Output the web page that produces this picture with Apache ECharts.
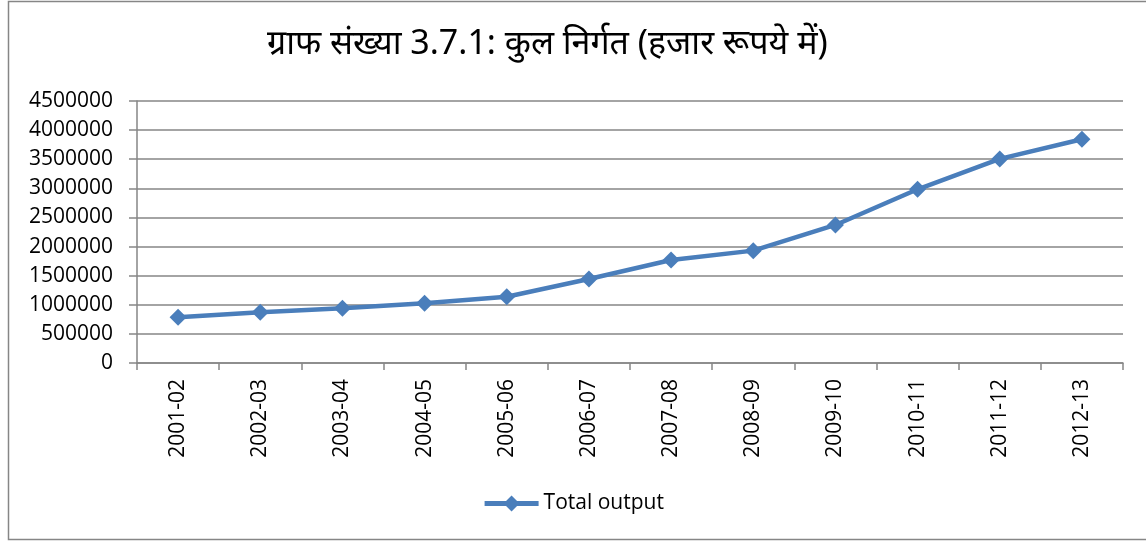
<!DOCTYPE html>
<html>
<head>
<meta charset="utf-8">
<script src="https://cdn.jsdelivr.net/npm/echarts@6/dist/echarts.min.js"></script>
<style>
  html, body { margin: 0; padding: 0; background: #fff; }
  #chart { width: 1146px; height: 541px; }
</style>
</head>
<body>
<div id="chart"></div>
<script>
  // 数据
  var years = ['2001-02', '2002-03', '2003-04', '2004-05', '2005-06', '2006-07',
               '2007-08', '2008-09', '2009-10', '2010-11', '2011-12', '2012-13'];
  var totalOutput = [785000, 871000, 940000, 1026000, 1139000, 1443000,
                     1770000, 1930000, 2371000, 2984000, 3505000, 3843000];
  var seriesName = 'Total output';
  var titleText = 'ग्राफ संख्या 3.7.1: कुल निर्गत (हजार रूपये में)';

  var axisGray = '#868686';
  var lineBlue = '#4a7ebb';

  var myChart = echarts.init(document.getElementById('chart'));
  myChart.setOption({
    animation: false,
    title: {
      text: titleText,
      left: 262,
      top: 22,
      textStyle: {
        fontFamily: '"Noto Sans", "Open Sans", sans-serif',
        fontSize: 34,
        fontWeight: 'normal',
        color: '#000'
      }
    },
    // 外框
    graphic: [{
      type: 'rect',
      shape: { x: 8.5, y: 1.5, width: 1150, height: 538 },
      style: { fill: 'none', stroke: axisGray, lineWidth: 1.5 },
      silent: true
    }],
    legend: {
      bottom: 22,
      left: 'center',
      itemWidth: 54,
      itemHeight: 20,
      itemGap: 4,
      lineStyle: { width: 5 },
      textStyle: { fontFamily: '"Open Sans", sans-serif', fontSize: 21, color: '#000' },
      data: [seriesName]
    },
    grid: {
      left: 137,
      right: 23,
      top: 101,
      bottom: 178,
      containLabel: false
    },
    xAxis: {
      type: 'category',
      data: years,
      boundaryGap: true,
      axisLine: { lineStyle: { color: axisGray, width: 1.5 } },
      axisTick: { show: true, length: 7, alignWithLabel: false, lineStyle: { color: axisGray, width: 1.5 } },
      axisLabel: {
        rotate: 90,
        margin: 16,
        interval: 0,
        fontFamily: '"Open Sans", sans-serif',
        fontSize: 21,
        color: '#000'
      },
      splitLine: { show: false }
    },
    yAxis: {
      type: 'value',
      min: 0,
      max: 4500000,
      interval: 500000,
      axisLine: { show: true, lineStyle: { color: axisGray, width: 1.5 } },
      axisTick: { show: true, length: 8, lineStyle: { color: axisGray, width: 1.5 } },
      axisLabel: {
        margin: 24,
        fontFamily: '"Open Sans", sans-serif',
        fontSize: 21,
        color: '#000',
        formatter: function (v) { return String(v); }
      },
      splitLine: { show: true, lineStyle: { color: axisGray, width: 1.5 } }
    },
    series: [{
      name: seriesName,
      type: 'line',
      data: totalOutput,
      symbol: 'diamond',
      symbolSize: 17,
      lineStyle: { color: lineBlue, width: 4.5 },
      itemStyle: { color: lineBlue },
      z: 5
    }]
  });
</script>
</body>
</html>
